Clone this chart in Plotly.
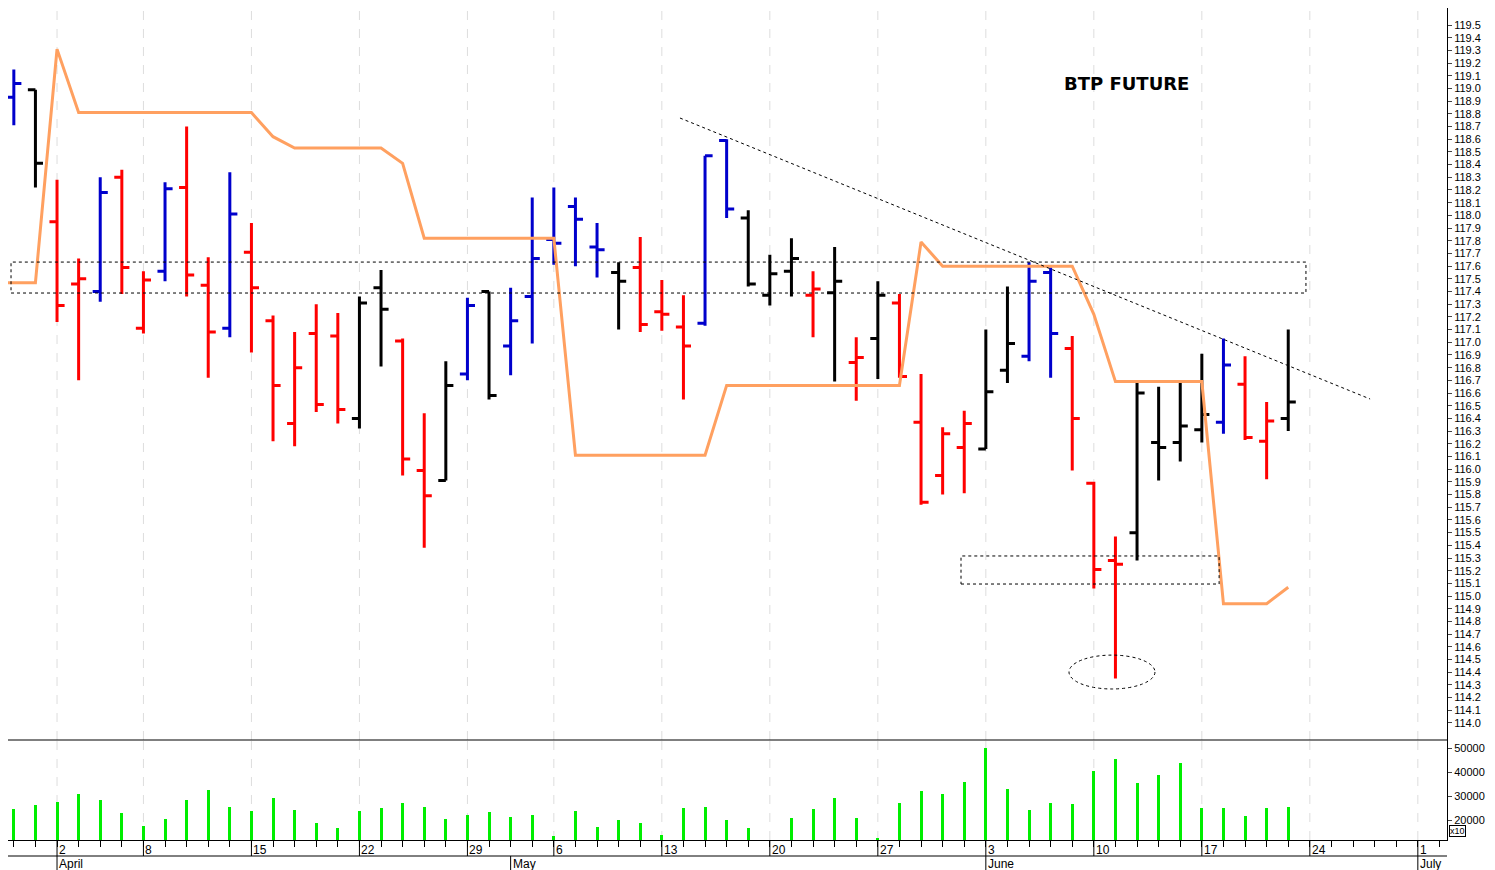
import plotly.graph_objects as go

idx = list(range(-2, 58))
opens = [118.93,118.99,117.95,117.46,117.40,118.30,117.11,117.56,118.22,117.45,117.11,117.71,117.17,116.36,117.07,117.05,116.40,117.43,117.01,115.99,115.91,116.75,117.40,116.97,117.36,117.81,118.07,117.75,117.55,117.59,117.24,117.12,117.15,118.59,117.98,117.37,117.56,117.37,117.39,116.84,117.03,117.31,116.37,115.95,116.17,116.16,116.78,116.89,117.55,116.95,115.89,115.28,115.50,116.21,116.21,116.31,116.37,116.67,116.22,116.40]
highs = [119.15,118.99,118.28,117.66,118.30,118.36,117.56,118.26,118.70,117.67,118.34,117.94,117.21,117.08,117.30,117.23,117.36,117.57,117.03,116.44,116.85,117.35,117.40,117.43,118.14,118.22,118.14,117.94,117.63,117.83,117.49,117.37,118.47,118.60,118.04,117.69,117.82,117.56,117.75,117.04,117.48,117.38,116.75,116.33,116.46,117.10,117.44,117.63,117.59,117.05,115.90,115.47,116.69,116.65,116.68,116.91,117.03,116.89,116.53,117.10]
lows = [118.71,118.22,117.16,116.70,117.32,117.38,117.07,117.48,117.36,116.72,117.04,116.92,116.22,116.18,116.45,116.36,116.32,116.81,115.95,115.38,115.91,116.70,116.55,116.74,116.99,117.61,117.60,117.51,117.10,117.08,117.09,116.55,117.13,117.98,117.44,117.29,117.36,117.04,116.69,116.54,116.71,116.72,115.72,115.80,115.81,116.16,116.68,116.85,116.72,115.99,115.06,114.35,115.28,115.91,116.06,116.21,116.28,116.23,115.92,116.30]
closes = [119.04,118.41,117.29,117.50,118.18,117.59,117.49,118.21,117.53,117.08,118.01,117.43,116.66,116.80,116.51,116.47,117.31,117.26,116.08,115.79,116.66,117.29,116.58,117.17,117.66,117.78,117.97,117.73,117.48,117.14,117.22,116.97,118.47,118.05,117.46,117.54,117.66,117.42,117.48,116.88,117.37,116.73,115.74,116.28,116.36,116.61,116.99,117.48,117.07,116.40,115.21,115.25,116.60,116.17,116.34,116.43,116.82,116.25,116.38,116.53]
bar_colors = list("bk" + "rrbrrbrrbrrrrrkkrrkbkbbbbbkrrrbbkkkrkrkrrrrkkbbrrrkkkkbrrk")
volumes = [24600,26250,27360,31000,28500,23000,17600,20400,28500,32500,25400,23750,29300,24000,18900,16800,23750,25000,27100,25300,20550,22100,23500,21250,22100,13500,23750,17200,20000,18900,13900,24900,25300,20000,16800,
           11700,20700,24400,29300,20800,12500,27000,32200,31000,35800,50000,33000,24000,27000,26500,40500,45400,35400,38700,43900,25000,25000,21500,25000,25300]
line_vals = [117.47,117.47,119.31,118.81,118.81,118.81,118.81,118.81,118.81,118.81,118.81,118.81,118.62,118.53,118.53,118.53,118.53,118.53,118.41,117.82,117.82,117.82,117.82,117.82,117.82,117.82,116.11,116.11,116.11,116.11,116.11,116.11,116.11,116.66,116.66,116.66,116.66,116.66,116.66,116.66,116.66,116.66,117.79,117.60,117.60,117.60,117.60,117.60,117.60,117.60,117.22,116.69,116.69,116.69,116.69,116.69,114.94,114.94,114.94,115.07]
week_idx = [0, 4, 9, 14, 19, 23, 28, 33, 38, 43, 48, 53, 58, 63]
week_labels = ["2","8","15","22","29","6","13","20","27","3","10","17","24","1"]
month_idx = [0, 21, 43, 63]
month_labels = ["April", "May", "June", "July"]
price_ticks = [round(114.0 + 0.1 * k, 1) for k in range(56)]
title_text = "BTP FUTURE"

cmap = {"r": "#ff0000", "b": "#0000cc", "k": "#000000"}
fig = go.Figure()
for c, col in cmap.items():
    sel = [i for i, bc in enumerate(bar_colors) if bc == c]
    fig.add_trace(go.Ohlc(
        x=[idx[i] for i in sel], open=[opens[i] for i in sel], high=[highs[i] for i in sel],
        low=[lows[i] for i in sel], close=[closes[i] for i in sel],
        increasing=dict(line=dict(color=col, width=3)), decreasing=dict(line=dict(color=col, width=3)),
        tickwidth=0.35, xaxis="x", yaxis="y", showlegend=False, hoverinfo="skip"))

fig.add_trace(go.Scatter(x=[-2.7] + idx, y=[line_vals[0]] + line_vals, mode="lines",
                         line=dict(color="#ffa060", width=3), xaxis="x", yaxis="y", showlegend=False))
fig.add_trace(go.Bar(x=idx, y=volumes, marker=dict(color="#00ee00", line=dict(width=0)), width=0.14,
                     xaxis="x2", yaxis="y2", showlegend=False, base=0))

xr = [-2.27, 64.35]
PH = 832.0
fig.update_layout(
    width=1487, height=862, margin=dict(l=0, r=48, t=0, b=30),
    paper_bgcolor="white", plot_bgcolor="white",
    font=dict(family="Liberation Sans, Arial", color="black", size=11),
    xaxis=dict(domain=[0, 1], range=xr, anchor="y", showticklabels=False, showgrid=False,
               zeroline=False, rangeslider=dict(visible=False), ticks=""),
    xaxis2=dict(domain=[0, 1], range=xr, anchor="y2", showticklabels=False, showgrid=False, zeroline=False,
                ticks="outside", tick0=0, dtick=1, ticklen=6, tickcolor="black", showline=True, linecolor="black"),
    yaxis=dict(domain=[100 / PH, 1], range=[113.866, 119.634], side="right", tickvals=price_ticks,
               tickformat=".1f", ticks="outside", ticklen=4, showgrid=False, zeroline=False,
               showline=True, linecolor="black", tickfont=dict(size=11)),
    yaxis2=dict(domain=[0, 100 / PH], range=[11667, 53333], side="right", tickvals=[20000, 30000, 40000, 50000],
                tickformat="d", ticks="outside", ticklen=4, showgrid=False, zeroline=False, showline=True,
                linecolor="black", tickfont=dict(size=11)),
    bargap=0,
)

shapes = []
for w in week_idx:
    for yr in ("y", "y2"):
        shapes.append(dict(type="line", xref="x", yref=yr + " domain", x0=w, x1=w, y0=0, y1=1,
                           line=dict(color="#dddddd", width=1, dash="dash"), layer="below"))
    shapes.append(dict(type="line", xref="x", yref="paper", x0=w, x1=w, y0=0, y1=-16 / PH,
                       line=dict(color="black", width=1)))
shapes.append(dict(type="line", xref="paper", yref="paper", x0=0, x1=1, y0=100 / PH, y1=100 / PH,
                   line=dict(color="black", width=1)))
shapes.append(dict(type="line", xref="paper", yref="paper", x0=0, x1=1, y0=-16 / PH, y1=-16 / PH,
                   line=dict(color="black", width=1)))
for m in month_idx:
    shapes.append(dict(type="line", xref="x", yref="paper", x0=m, x1=m, y0=-16 / PH, y1=-30 / PH,
                       line=dict(color="black", width=1)))
shapes.append(dict(type="rect", xref="x", yref="y", x0=-2.13, x1=57.82, y0=117.388, y1=117.632,
                   line=dict(color="black", width=1, dash="dot")))
shapes.append(dict(type="rect", xref="x", yref="y", x0=41.85, x1=53.8, y0=115.095, y1=115.316,
                   line=dict(color="black", width=1, dash="dot")))
shapes.append(dict(type="line", xref="x", yref="y", x0=28.84, x1=60.79, y0=118.767, y1=116.553,
                   line=dict(color="black", width=1, dash="dot")))
shapes.append(dict(type="circle", xref="x", yref="y", x0=46.85, x1=50.83, y0=114.268, y1=114.535,
                   line=dict(color="black", width=1, dash="dot")))
fig.update_layout(shapes=shapes)

ann = [dict(text="<b>" + title_text + "</b>", x=49.5, y=119.04, xref="x", yref="y", showarrow=False,
            font=dict(size=18, family="DejaVu Sans, Arial"), xanchor="center")]
for w, l in zip(week_idx, week_labels):
    ann.append(dict(text=l, x=w, y=-1 / PH, xref="x", yref="paper", xanchor="left", yanchor="top",
                    showarrow=False, font=dict(size=12)))
for m, l in zip(month_idx, month_labels):
    ann.append(dict(text=l, x=m, y=-15 / PH, xref="x", yref="paper", xanchor="left", yanchor="top",
                    showarrow=False, font=dict(size=12)))
ann.append(dict(text="x10", x=1.0, y=0.004, xref="paper", yref="paper", xanchor="left", yanchor="bottom",
                xshift=2, showarrow=False, font=dict(size=9), bordercolor="black", borderwidth=1, borderpad=0))
fig.update_layout(annotations=ann)
fig.write_html("out.html")
